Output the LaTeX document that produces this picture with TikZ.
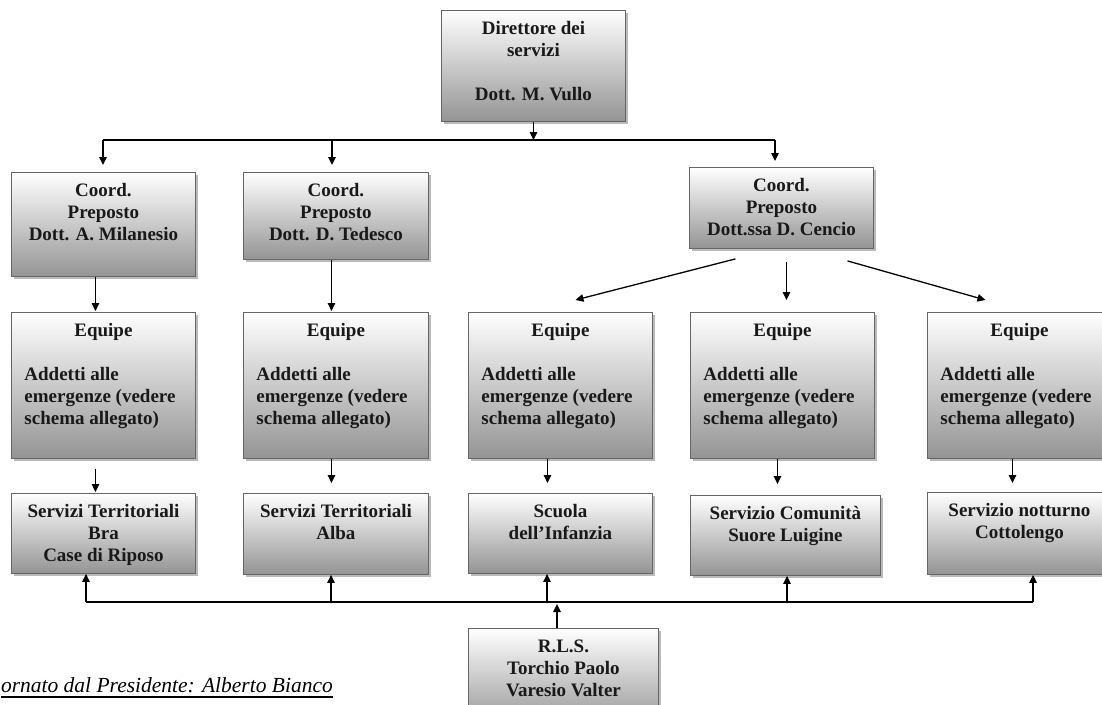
\documentclass[tikz,border=0pt]{standalone}
\usepackage{fontspec}
\setmainfont{Liberation Serif}
\usetikzlibrary{arrows.meta,shadows}
\tikzset{
 obox/.style={draw=black!60, line width=0.9pt, top color=white, bottom color=black!42,
   inner sep=0pt, anchor=north west,
   drop shadow={shadow xshift=2.5pt, shadow yshift=-2.5pt, fill=black!45, opacity=0.6},
   font=\bfseries\fontsize{19}{22}\selectfont, text=black!90},
 arr/.style={-{Triangle[length=8pt,width=7.5pt]}, line width=1.3pt},
 conn/.style={line width=1.3pt},
}
\newcommand\bt[3]{\parbox[c][#2][t]{#1}{\centering\vspace*{9pt}#3\par}}
\newcommand\eqtext[1]{\bt{#1}{146pt}{\strut Equipe\par\strut\par\raggedright\leftskip=13pt\relax Addetti alle\\emergenze (vedere\\schema allegato)}}
\begin{document}
\begin{tikzpicture}[x=1pt,y=-1pt]
\useasboundingbox (0,0) rectangle (1102,704);
% boxes
\node[obox] (dir) at (441,10) {\bt{184pt}{111pt}{\strut Direttore dei\\servizi\\\strut\\Dott. M. Vullo}};
\node[obox] (c1) at (11,172) {\bt{184pt}{104pt}{\strut Coord.\\Preposto\\Dott. A. Milanesio}};
\node[obox] (c2) at (243,172) {\bt{185pt}{87pt}{\strut Coord.\\Preposto\\Dott. D. Tedesco}};
\node[obox] (c3) at (689,167) {\bt{184pt}{81pt}{\strut Coord.\\Preposto\\Dott.ssa D. Cencio}};
\node[obox] (e1) at (11,312) {\eqtext{184pt}};
\node[obox] (e2) at (243,312) {\eqtext{185pt}};
\node[obox] (e3) at (468,312) {\eqtext{184pt}};
\node[obox] (e4) at (690,312) {\eqtext{184pt}};
\node[obox] (e5) at (927,312) {\eqtext{184pt}};
\node[obox] (s1) at (11,493) {\bt{184pt}{80pt}{\strut Servizi Territoriali\\Bra\\Case di Riposo}};
\node[obox] (s2) at (243,493) {\bt{185pt}{81pt}{\strut Servizi Territoriali\\Alba}};
\node[obox] (s3) at (468,493) {\bt{184pt}{80pt}{\strut Scuola\\dell’Infanzia}};
\node[obox] (s4) at (690,495) {\bt{190pt}{80pt}{\strut Servizio Comunità\\Suore Luigine}};
\node[obox] (s5) at (927,492) {\bt{184pt}{82pt}{\strut Servizio notturno\\Cottolengo}};
\node[obox] (rls) at (468,628) {\bt{190pt}{100pt}{\strut R.L.S.\\Torchio Paolo\\Varesio Valter}};
% footer text
\node[anchor=base east, inner sep=0pt, font=\itshape\fontsize{21.5}{24}\selectfont] (pres) at (333,692)
  {ornato dal Presidente: Alberto Bianco};
\draw[line width=1.2pt] ([yshift=-5pt]pres.base west) -- ([yshift=-5pt]pres.base east);
% top bus
\coordinate (b1) at (103,140);
\coordinate (b2) at (332,140);
\coordinate (b3) at (775,140);
\draw[conn] (b1) -- (b3);
\draw[arr] (dir.south) -- (dir.south |- b1);
\draw[arr] (b1) -- ([yshift=7pt]b1 |- c1.north);
\draw[arr] (b2) -- ([yshift=7pt]b2 |- c2.north);
\draw[arr] (b3) -- ([yshift=6pt]b3 |- c3.north);
% coord -> equipe
\draw[arr] ([xshift=-8pt]c1.south) -- ([xshift=-8pt,yshift=1pt]e1.north);
\draw[arr] ([xshift=-4.5pt]c2.south) -- ([xshift=-4.5pt,yshift=1pt]e2.north);
\draw[arr] ([xshift=-46pt,yshift=-10pt]c3.south) -- ([xshift=15pt,yshift=12pt]e3.north);
\draw[arr] ([xshift=5pt,yshift=-13pt]c3.south) -- ([xshift=4pt,yshift=12pt]e4.north);
\draw[arr] ([xshift=66pt,yshift=-12pt]c3.south) -- ([xshift=-34pt,yshift=12pt]e5.north);
% equipe -> services
\draw[arr] ([xshift=-8pt,yshift=-10pt]e1.south) -- ([xshift=-8pt,yshift=1pt]s1.north);
\draw[arr] ([xshift=-4.5pt]e2.south) -- ([xshift=-4.5pt,yshift=10pt]s2.north);
\draw[arr] ([xshift=-13pt]e3.south) -- ([xshift=-13pt,yshift=10pt]s3.north);
\draw[arr] ([xshift=-5pt]e4.south) -- ([xshift=-8pt,yshift=11pt]s4.north);
\draw[arr] ([xshift=-7pt]e5.south) -- ([xshift=-7pt,yshift=9pt]s5.north);
% bottom bus
\coordinate (u1) at (86,602);
\coordinate (u2) at (331,602);
\coordinate (u3) at (547,602);
\coordinate (u4) at (787,602);
\coordinate (u5) at (1033,602);
\coordinate (r0) at (557,604);
\draw[conn] (u1) -- (u5);
\draw[arr] (u1) -- (u1 |- s1.south);
\draw[arr] (u2) -- (u2 |- s2.south);
\draw[arr] (u3) -- (u3 |- s3.south);
\draw[arr] (u4) -- (u4 |- s4.south);
\draw[arr] (u5) -- (u5 |- s5.south);
\draw[arr] (r0 |- rls.north) -- (r0);
\end{tikzpicture}
\end{document}
